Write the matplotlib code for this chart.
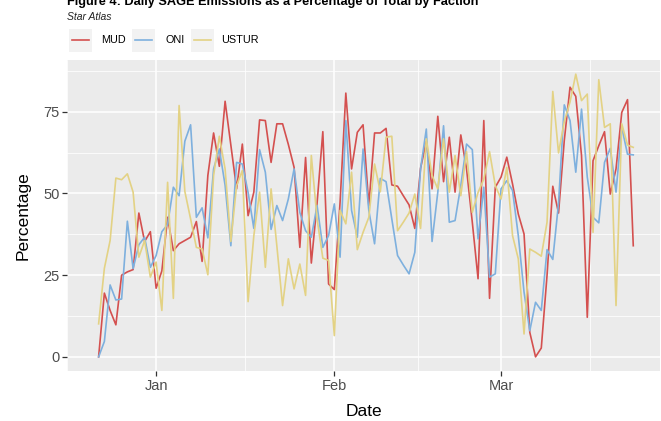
import numpy as np
import pandas as pd
import matplotlib
matplotlib.use("Agg")
import matplotlib.pyplot as plt
import matplotlib.dates as mdates
from matplotlib.patches import Rectangle
from matplotlib.lines import Line2D

plt.rcParams['font.family'] = ['Liberation Sans', 'DejaVu Sans']

start_date = "2023-12-22"
n_days = 94

mud = [0, 19.5, 14.2, 9.8, 25, 26, 26.7, 44, 35.3, 38.3,
       21, 26.3, 42.7, 32.5, 34.6, 35.6, 36.6, 41.4, 29.2, 55.5,
       68.5, 58.3, 78.2, 64.8, 51.4, 65.1, 43.2, 50.4, 72.5, 72.3,
       59.5, 71.3, 71.3, 65, 58, 33.5, 61, 28.7, 47, 68.9,
       22.3, 20.6, 47.3, 80.7, 57.5, 68.7, 71, 46.3, 68.5, 68.5,
       69.9, 52.6, 52.2, 49.3, 46.5, 39.3, 57.7, 65.9, 51.4, 73.6,
       53.6, 67.2, 50.4, 67.9, 57.5, 41.2, 23.9, 72.3, 17.9, 51.9,
       55, 61.1, 52.9, 43.7, 37.6, 7.5, 0, 2.7, 24.9, 52.2,
       44, 66.2, 82.5, 79.7, 61.6, 12.1, 60, 64.6, 68.9, 49.8,
       57.5, 74.8, 78.7, 34]

oni = [0, 4.7, 22, 17.4, 17.7, 41.5, 27, 34.3, 36.6, 27.4,
       31, 38.3, 40.5, 51.9, 49.3, 66, 71, 42.7, 45.6, 36.4,
       57.5, 63.6, 52.5, 34, 59.5, 59, 50.3, 39.3, 63.4, 56.5,
       39, 46.3, 41.7, 48.3, 57.5, 44.2, 38.6, 36.6, 46.3, 33.5,
       37.1, 46.8, 30.5, 72.3, 44.8, 36.6, 63.6, 44.8, 34.6, 54.6,
       53.6, 42.2, 31, 28.1, 25.4, 32, 57.5, 69.7, 35.3, 50.4,
       70.7, 41.2, 41.7, 52.4, 65.1, 63.4, 36.1, 51.9, 24.4, 25.4,
       51.4, 53.9, 50.9, 37.1, 19.8, 8, 16.7, 14.2, 32.8, 29.8,
       47, 77.1, 72.3, 56.5, 75.8, 55, 42.7, 41, 59.5, 63.8,
       50.4, 70.2, 62, 61.8]

ustur = [10.1, 27.1, 35.6, 54.7, 54.2, 56, 50.4, 30.5, 35.6, 24.4,
         29, 14.2, 53.4, 17.9, 76.9, 50.6, 42.2, 33.5, 33, 25.1,
         55.5, 67.5, 57.5, 35.3, 52.4, 57, 16.9, 37.1, 50.4, 27.4,
         51.4, 34, 15.7, 30, 20.8, 28.4, 18.8, 61.6, 42.2, 30.2,
         29.5, 6.5, 44.8, 40.7, 56.5, 32.8, 38.1, 42.7, 59, 50.5,
         67.2, 67.5, 38.6, 41.2, 44, 49.8, 39.3, 66.7, 55.5, 51.4,
         66.7, 50.4, 61.6, 49.3, 62.8, 44.2, 50.3, 54.4, 62.8, 52.4,
         48.3, 58, 37.1, 30, 7, 33, 32, 30.8, 41.2, 81.2,
         62.4, 72, 78, 86.5, 78.4, 80.4, 38.1, 84.8, 70.2, 71.3,
         15.7, 71.3, 64.8, 64.1]

factions = ["MUD", "ONI", "USTUR"]
colors = ["#D4504F", "#7EB0DE", "#E3D284"]
y_ticks = [0, 25, 50, 75]

dates = pd.date_range(start_date, periods=n_days, freq="D")
series = [mud, oni, ustur]

fig = plt.figure(figsize=(6.61, 4.21), dpi=100)
ax = fig.add_axes([67/661, 1 - 371/421, (660 - 67)/661, (371 - 60)/421])
ax.set_facecolor("#EBEBEB")

for vals, col, name in zip(series, colors, factions):
    ax.plot(dates, vals, color=col, lw=1.2, label=name, zorder=3)

# limits with ggplot-like 5% expansion
xn = mdates.date2num(dates)
xr = xn[-1] - xn[0]
ax.set_xlim(xn[0] - 0.05 * xr, xn[-1] + 0.05 * xr)
allv = np.concatenate([mud, oni, ustur])
yr = allv.max() - allv.min()
ax.set_ylim(allv.min() - 0.05 * yr, allv.max() + 0.05 * yr)

ax.xaxis.set_major_locator(mdates.MonthLocator())
ax.xaxis.set_major_formatter(mdates.DateFormatter("%b"))
majors = [mdates.date2num(pd.Timestamp(s)) for s in ["2023-12-01", "2024-01-01", "2024-02-01", "2024-03-01", "2024-04-01"]]
minors = [(a + b) / 2 for a, b in zip(majors[:-1], majors[1:])]
ax.set_xticks(minors, minor=True)
ax.set_yticks(y_ticks)
ax.set_yticks([12.5, 37.5, 62.5, 87.5], minor=True)

ax.grid(which="major", color="white", lw=1.1, zorder=0)
ax.grid(which="minor", color="white", lw=0.55, zorder=0)
ax.set_axisbelow(True)
for s in ax.spines.values():
    s.set_visible(False)
ax.tick_params(which="major", length=3.5, width=0.9, color="#333333",
               labelcolor="#4D4D4D", labelsize=10.5, pad=2)
ax.tick_params(which="minor", length=0)

ax.set_xlabel("Date", fontsize=12.5, color="black", labelpad=8)
ax.set_ylabel("Percentage", fontsize=12.5, color="black", labelpad=9)

# title & subtitle
fig.text(67/661, 1 - 5/421, "Figure 4: Daily SAGE Emissions as a Percentage of Total by Faction",
         fontsize=9.2, fontweight="bold", ha="left", va="baseline")
fig.text(67/661, 1 - 20/421, "Star Atlas", fontsize=7.5, style="italic",
         ha="left", va="baseline", color="#222222")

# legend (ggplot style with grey key backgrounds)
key_x = [69, 132, 191]
lab_x = [101, 165, 221]
key_w, key_h = 23, 23
key_yc = 40
for kx, lx, col, name in zip(key_x, lab_x, colors, factions):
    fig.add_artist(Rectangle((kx/661, 1 - (key_yc + key_h/2)/421), key_w/661, key_h/421,
                             transform=fig.transFigure, facecolor="#F2F2F2", edgecolor="none"))
    fig.add_artist(Line2D([(kx + 3)/661, (kx + key_w - 3)/661], [1 - key_yc/421, 1 - key_yc/421],
                          transform=fig.transFigure, color=col, lw=1.2))
    fig.text(lx/661, 1 - key_yc/421, name, fontsize=7.8, ha="left", va="center")

fig.savefig("out.png", dpi=100)
